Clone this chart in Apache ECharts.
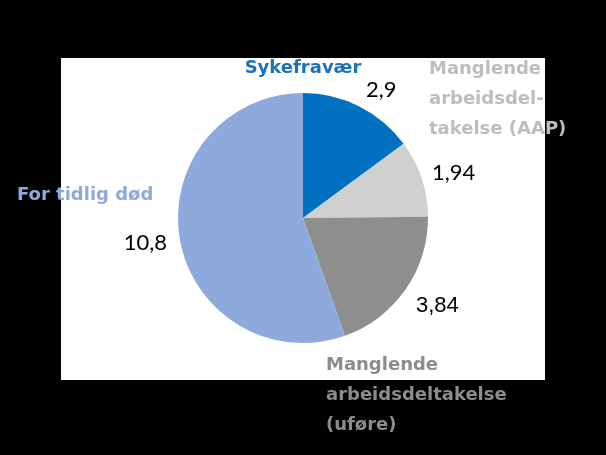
<!DOCTYPE html>
<html><head><meta charset="utf-8">
<script src="https://cdn.jsdelivr.net/npm/echarts@6/dist/echarts.min.js"></script>
<style>html,body{margin:0;padding:0;background:#000;}#c{width:606px;height:455px;}</style>
</head><body><div id="c"></div>
<script>
const categories = ["Sykefravær", "Manglende arbeidsdeltakelse (AAP)", "Manglende arbeidsdeltakelse (uføre)", "For tidlig død"];
const nameLabels = ["Sykefravær", "Manglende\narbeidsdel-\ntakelse (AAP)", "Manglende\narbeidsdeltakelse\n(uføre)", "For tidlig død"];
const values = [2.9, 1.94, 3.84, 10.8];
const valueText = ["2,9", "1,94", "3,84", "10,8"];

const sliceColors = ["#0070C0", "#D0D0D0", "#8E8E8E", "#8EA9DB"];
const nameColors = ["#1A72BA", "#BDBDBD", "#8C8C8C", "#8EA9DB"];
const namePos = [
  {x: 303, y: 68, align: 'center'},
  {x: 429, y: 99, align: 'left'},
  {x: 326, y: 395, align: 'left'},
  {x: 17, y: 195, align: 'left'}
];
const valuePos = [
  {x: 366, y: 90, align: 'left'},
  {x: 432, y: 173, align: 'left'},
  {x: 416, y: 306, align: 'left'},
  {x: 167, y: 243, align: 'right'}
];
const valueFonts = ["Lato", "Lato", "Liberation Sans", "Lato"];

const chart = echarts.init(document.getElementById('c'), null, {renderer: 'canvas'});
const data = categories.map((c, i) => ({name: c, value: values[i], itemStyle: {color: sliceColors[i]},
  label: {fontFamily: valueFonts[i]}}));

chart.setOption({
  backgroundColor: '#000',
  animation: false,
  graphic: [{type: 'rect', shape: {x: 61, y: 58, width: 484, height: 322}, style: {fill: '#fff'}, z: -10}],
  series: [
    {
      type: 'pie', center: [303, 218], radius: 125, startAngle: 90, clockwise: true,
      silent: true, z: 2,
      data: data,
      itemStyle: {borderWidth: 0},
      labelLine: {show: false},
      label: {
        show: true, overflow: 'none',
        formatter: p => valueText[p.dataIndex],
        color: '#000', fontSize: 22, fontFamily: 'Lato'
      },
      labelLayout: p => Object.assign({verticalAlign: 'middle'}, valuePos[p.dataIndex])
    },
    {
      type: 'pie', center: [303, 218], radius: 125, startAngle: 90, clockwise: true,
      silent: true, z: 3,
      data: categories.map((c, i) => ({name: c, value: values[i], itemStyle: {color: 'rgba(0,0,0,0)'},
        label: {color: nameColors[i]}})),
      labelLine: {show: false},
      label: {
        show: true, overflow: 'none', width: 220,
        formatter: p => nameLabels[p.dataIndex],
        fontSize: 18, fontWeight: 'bold', fontFamily: 'DejaVu Sans', lineHeight: 30
      },
      labelLayout: p => Object.assign({verticalAlign: 'middle'}, namePos[p.dataIndex])
    }
  ]
});
</script></body></html>
